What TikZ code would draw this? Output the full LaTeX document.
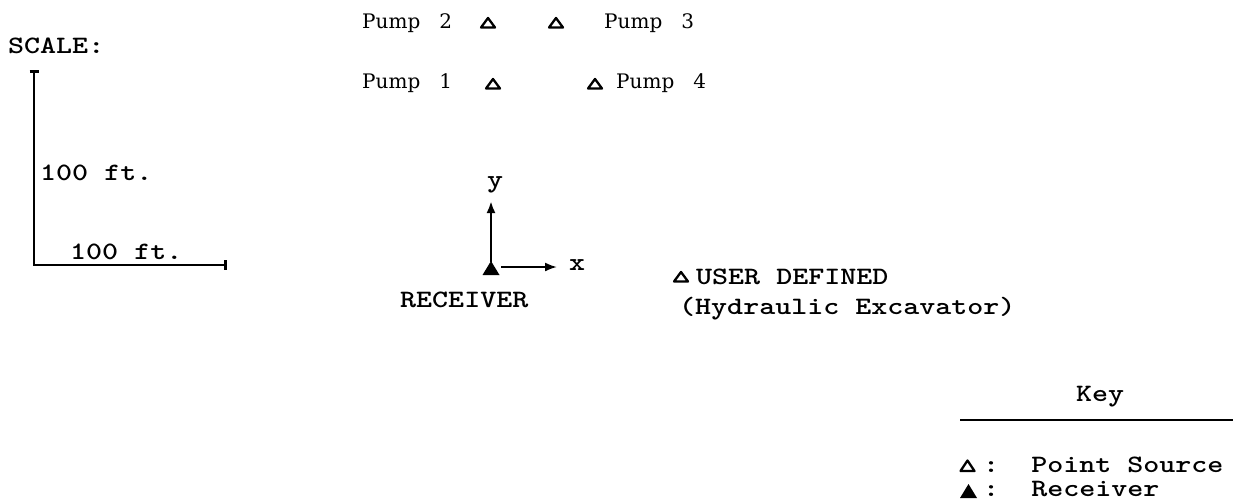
\documentclass[tikz,border=0pt]{standalone}
\usepackage{fontspec}
\usepackage{graphicx}
\usetikzlibrary{arrows.meta}
\newfontfamily\pumpfont{DejaVu Serif}
\newfontfamily\twfont{lmmonolt10-bold.otf}
\newcommand\twtext[1]{\scalebox{1.22}[1]{#1}}
\begin{document}
\begin{tikzpicture}[x=1pt,y=-1pt,
  tw/.style={font=\twfont\fontsize{25}{30}\selectfont, inner sep=0pt, anchor=base west},
  pumplbl/.style={font=\pumpfont\fontsize{20}{24}\selectfont, inner sep=0pt, anchor=base west},
  scalebar/.style={line width=2.8pt},
  axisarrow/.style={line width=2.6pt, -{Latex[length=12pt,width=9pt]}},
  srcmark/.pic={\draw[line width=2.3pt,line join=round] (-7,4.5) -- (7,4.5) -- (0,-5) -- cycle;},
  srcmarkbig/.pic={\draw[line width=2.3pt,line join=round] (-7,5) -- (7,5) -- (0,-5.5) -- cycle;},
  recmark/.pic={\fill[line join=round] (-8.5,7) -- (8.5,7) -- (0,-7) -- cycle;}
]
\useasboundingbox (0,0) rectangle (1233,501);

% ---- scale ----
\node[tw] (scaletitle) at (8,53) {\twtext{SCALE:}};
\coordinate (stop) at (34,70);
\coordinate (scorner) at (34,265);
\coordinate (sright) at (227,265);
\draw[scalebar, {Bar[width=9pt]}-{Bar[width=10pt]}] (stop) -- (scorner) -- (sright);
\node[tw] (vlabel) at (40,180) {\twtext{100 ft.}};
\node[tw] (hlabel) at (70,259) {\twtext{100 ft.}};

% ---- pumps ----
\node[pumplbl] (pump2) at (362,28) {Pump~~~2};
\node[pumplbl] (pump3) at (604,28) {Pump~~~3};
\node[pumplbl] (pump1) at (362,88) {Pump~~~1};
\node[pumplbl] (pump4) at (616,88) {Pump~~~4};
\coordinate (s2) at (488,23);
\coordinate (s3) at (556,23);
\coordinate (s1) at (493,84);
\coordinate (s4) at (595,84);
\pic at (s2) {srcmark};
\pic at (s3) {srcmark};
\pic at (s1) {srcmark};
\pic at (s4) {srcmark};

% ---- receiver and axes ----
\coordinate (rec) at (491,268);
\pic at (rec) {recmark};
\coordinate (ybase) at (491,262);
\coordinate (ytip) at (491,201);
\coordinate (xbase) at (501,267);
\coordinate (xtip) at (557,267);
\draw[axisarrow] (ybase) -- (ytip);
\draw[axisarrow, line width=2pt] (xbase) -- (xtip);
\node[tw, anchor=base] (ylab) at (495,187) {\twtext{y}};
\node[tw, anchor=base] (xlab) at (577,270) {\twtext{x}};
\node[tw] (reclab) at (400,307) {\twtext{RECEIVER}};

% ---- user defined source ----
\coordinate (su) at (681,277);
\pic at (su) {srcmark};
\node[tw] (userlab) at (696,284) {\twtext{USER DEFINED}};
\node[tw] (hydlab) at (679,314) {\twtext{(Hydraulic Excavator)}};

% ---- key ----
\node[tw] (keytitle) at (1076,401) {\twtext{Key}};
\coordinate (kl) at (960,420);
\coordinate (kr) at (1233,420);
\draw[line width=2pt] (kl) -- (kr);
\coordinate (ksrc) at (967.5,466);
\pic at (ksrc) {srcmarkbig};
\node[tw] (ksrclab) at (983,472) {\twtext{:~~Point Source}};
\coordinate (krec) at (968.5,491);
\pic at (krec) {recmark};
\node[tw] (kreclab) at (983,496) {\twtext{:~~Receiver}};
\end{tikzpicture}
\end{document}
